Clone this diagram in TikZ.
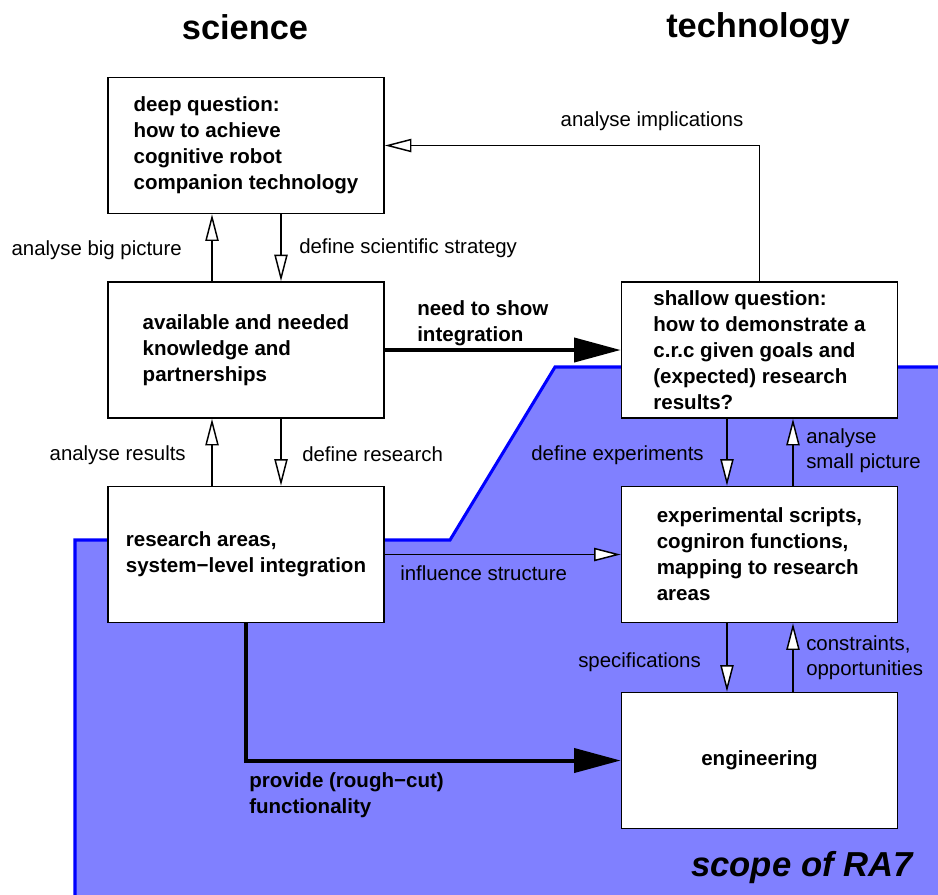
\documentclass[tikz,border=0pt]{standalone}
\usepackage{fontspec}
\setmainfont{Liberation Sans}
\usetikzlibrary{arrows.meta}
\definecolor{scopefill}{HTML}{8080FF}
\definecolor{scopeedge}{HTML}{0000FF}

\begin{document}
\begin{tikzpicture}[x=0.75pt,y=-0.75pt,
  box/.style={draw, line width=1.2pt, fill=white, minimum width=207pt,
    minimum height=102pt, align=left, inner sep=0pt,
    font=\bfseries\fontsize{15.4}{19.5}\selectfont},
  lbl/.style={font=\fontsize{15.3}{18.5}\selectfont, inner sep=0pt, align=left},
  blbl/.style={font=\bfseries\fontsize{15.4}{19.5}\selectfont, inner sep=0pt, align=left},
  flow/.style={line width=1.1pt, -{Triangle[length=20pt,width=10pt,fill=white]}},
  bigflow/.style={line width=3pt, -{Triangle[length=35pt,width=18pt]}},
  heading/.style={font=\bfseries\fontsize{25.8}{30}\selectfont, inner sep=0pt}]

\useasboundingbox (0,0) rectangle (938,894);
\clip (0,0) rectangle (938,894);

% scope region
\fill[scopefill] (75,910) -- (75,540) -- (450,540) -- (555,367) -- (950,367) -- (950,910) -- cycle;
\draw[scopeedge, line width=2.3pt] (75,910) -- (75,540) -- (450,540) -- (555,367) -- (950,367);

% column headings
\node[heading] (tsci) at (245,27) {science};
\node[heading] (ttech) at (758,29) {technology};

% boxes
\node[box] (deep) at (246,145.5) {deep question:\\how to achieve\\cognitive robot\\companion technology};
\node[box] (avail) at (246,350) {available and needed\\knowledge and\\partnerships};
\node[box] (research) at (246,554.5) {research areas,\\system−level integration};
\node[box] (shallow) at (759.5,350) {shallow question:\\how to demonstrate a\\c.r.c given goals and\\(expected) research\\results?};
\node[box] (exper) at (759.5,554.5) {experimental scripts,\\cogniron functions,\\mapping to research\\areas};
\node[box] (eng) at (759.5,760.5) {engineering};

% science column
\draw[flow] ([xshift=-25.5pt]avail.north) -- ([xshift=-25.5pt]deep.south);
\draw[flow] ([xshift=26.25pt]deep.south) -- ([xshift=26.25pt]avail.north);
\draw[flow] ([xshift=-25.5pt]research.north) -- ([xshift=-25.5pt]avail.south);
\draw[flow] ([xshift=26.25pt]avail.south) -- ([xshift=26.25pt]research.north);

% technology column
\draw[flow] ([xshift=-24.4pt]shallow.south) -- ([xshift=-24.4pt]exper.north);
\draw[flow] ([xshift=25.1pt]exper.north) -- ([xshift=25.1pt]shallow.south);
\draw[flow] ([xshift=-24.4pt]exper.south) -- ([xshift=-24.4pt]eng.north);
\draw[flow] ([xshift=25.1pt]eng.north) -- ([xshift=25.1pt]exper.south);

% cross links
\draw[flow] (shallow.north) |- (deep.east);
\draw[flow] (research.east) -- (exper.west);
\draw[bigflow] (avail.east) -- (shallow.west);
\draw[bigflow] (research.south) |- (eng.west);

% labels
\node[lbl, anchor=east] (lbigpic) at (182,250) {analyse big picture};
\node[lbl, anchor=west] (lstrat) at (299,248) {define scientific strategy};
\node[lbl, anchor=east] (lres) at (186,455) {analyse results};
\node[lbl, anchor=west] (ldefres) at (302,454) {define research};
\node[blbl, anchor=west] (lneed) at (417,323) {need to show\\integration};
\node[lbl] (limpl) at (652,121) {analyse implications};
\node[lbl, anchor=east] (ldefexp) at (704,455) {define experiments};
\node[lbl, anchor=west] (lsmall) at (806,451) {analyse\\small picture};
\node[lbl, anchor=west] (linfl) at (400,573) {influence structure};
\node[lbl, anchor=east] (lspec) at (701,662) {specifications};
\node[lbl, anchor=west] (lcons) at (806,658) {constraints,\\opportunities};
\node[blbl, anchor=west] (lprov) at (249,795) {provide (rough−cut)\\functionality};
\node[font=\bfseries\itshape\fontsize{26}{30}\selectfont, anchor=east, inner sep=0pt] (scope) at (913,868) {scope of RA7};

\end{tikzpicture}
\end{document}
